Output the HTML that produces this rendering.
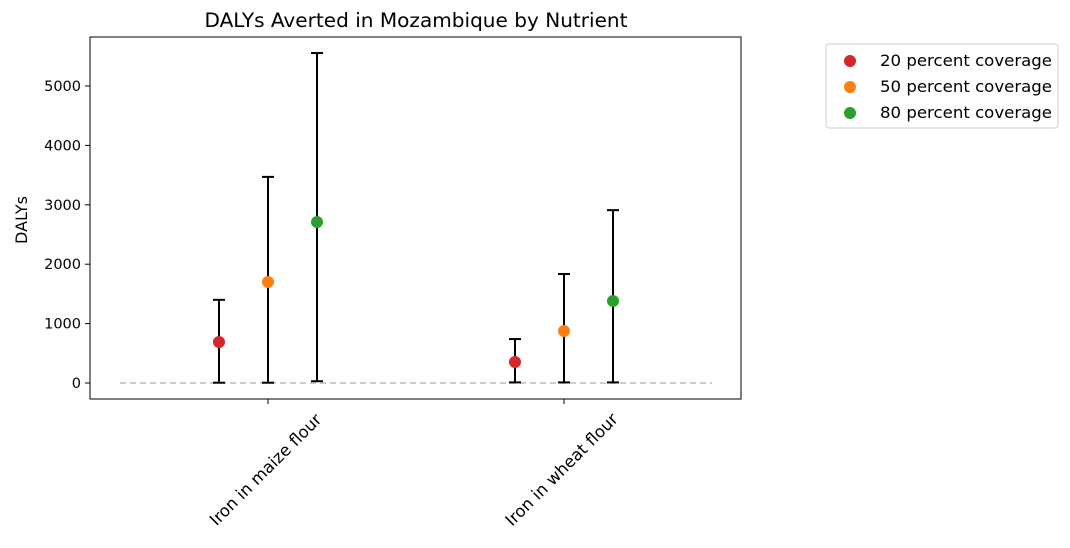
<!DOCTYPE html>
<html><head><meta charset="utf-8"><style>
body{margin:0;background:#fff;}
svg text{font-family:"DejaVu Sans","Liberation Sans",sans-serif;}
</style></head><body>
<svg id="chart" width="1070" height="543" viewBox="0 0 1070 543"></svg>
<script>
const categories=["Iron in maize flour","Iron in wheat flour"];
const seriesNames=["20 percent coverage","50 percent coverage","80 percent coverage"];
const seriesColors=["#d62728","#ff7f0e","#2ca02c"];
const maizeValues=[690,1700,2710];
const maizeLow=[5,5,30];
const maizeHigh=[1400,3470,5555];
const wheatValues=[354,875,1380];
const wheatLow=[10,10,10];
const wheatHigh=[740,1835,2910];
const yTicks=[0,1000,2000,3000,4000,5000];

const NS="http://www.w3.org/2000/svg";
const svg=document.getElementById('chart');
function mk(t,a,p){const e=document.createElementNS(NS,t);for(const k in a)e.setAttribute(k,a[k]);(p||svg).appendChild(e);return e;}
const L=90,R=741,T=37,B=399;
const y=v=>383-v*0.0594;
const catX=[268,564];
const off=[-49,0,49];
const x=(c,s)=>catX[c]+off[s];

const title=mk('text',{x:416,y:27,'text-anchor':'middle','font-size':19.5,textLength:423,lengthAdjust:'spacingAndGlyphs'});
title.textContent="DALYs Averted in Mozambique by Nutrient";



const zl=mk('line',{x1:120,x2:712,y1:y(0),y2:y(0),stroke:'#bbbbbb','stroke-width':1.6,'stroke-dasharray':'6,4'});



yTicks.forEach(v=>{
  mk('line',{x1:L-5,x2:L,y1:y(v),y2:y(v),stroke:'#000'});
  const t=mk('text',{x:L-9,y:y(v)+5,'text-anchor':'end','font-size':14.5});
  t.textContent=v;
  
  
});
const yl=mk('text',{x:27,y:220,'text-anchor':'middle','font-size':16,transform:'rotate(-90 27 220)'});
yl.textContent="DALYs";



categories.forEach((c,i)=>{
  mk('line',{x1:catX[i],x2:catX[i],y1:B,y2:B+5,stroke:'#000'});
  const cx=catX[i]-2, cy=470;
  const t=mk('text',{x:cx,y:cy+5,'text-anchor':'middle','font-size':16.5,transform:`rotate(-45 ${cx} ${cy})`});
  t.textContent=c;
  
  
});

const data=[[maizeValues,maizeLow,maizeHigh],[wheatValues,wheatLow,wheatHigh]];
data.forEach((d,c)=>{
  for(let s=0;s<3;s++){
    const cx=x(c,s);
    const g=mk('g',{});
    
    
    mk('line',{x1:cx,x2:cx,y1:y(d[1][s]),y2:y(d[2][s]),stroke:'#000','stroke-width':2},g);
    mk('line',{x1:cx-6,x2:cx+6,y1:y(d[1][s]),y2:y(d[1][s]),stroke:'#000','stroke-width':2},g);
    mk('line',{x1:cx-6,x2:cx+6,y1:y(d[2][s]),y2:y(d[2][s]),stroke:'#000','stroke-width':2},g);
    const p=mk('circle',{cx:cx,cy:y(d[0][s]),r:6,fill:seriesColors[s]});
    
    
  }
});

const fr=mk('rect',{x:L,y:T,width:R-L,height:B-T,fill:'none',stroke:'#000','stroke-width':1});



const lg=mk('g',{});


mk('rect',{x:826,y:44,width:232,height:84,rx:3,fill:'#fff',stroke:'#ccc'},lg);
seriesNames.forEach((n,i)=>{
  const g=mk('g',{},lg);
  
  
  mk('circle',{cx:850,cy:61+i*26,r:6,fill:seriesColors[i]},g);
  const t=mk('text',{x:880,y:66+i*26,'font-size':16,textLength:172,lengthAdjust:'spacingAndGlyphs'},g);
  t.textContent=n;
});
</script>
</body></html>
